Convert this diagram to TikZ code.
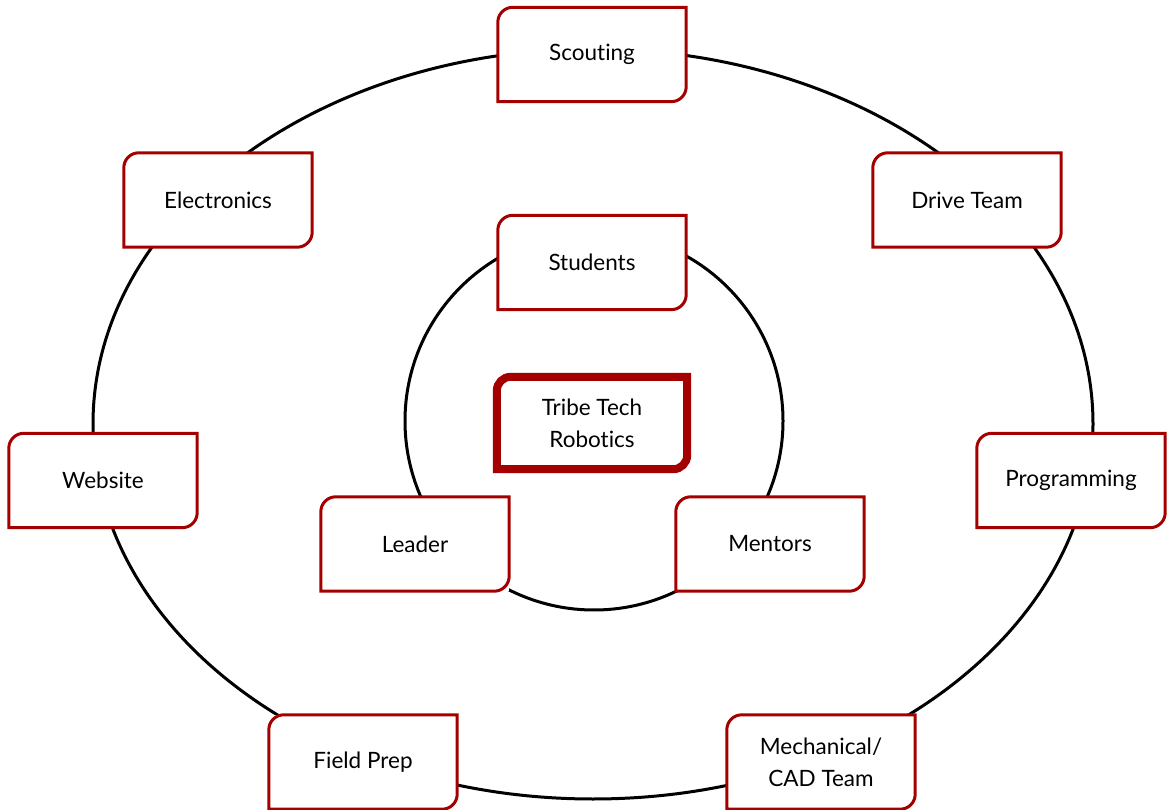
\documentclass[tikz,border=0pt]{standalone}
\usepackage{fontspec}
\setmainfont{Lato}[Ligatures={NoCommon,NoRare}]
\usetikzlibrary{calc}
\definecolor{boxred}{RGB}{165,0,0}
\tikzset{
  boxnode/.style={minimum width=188pt,minimum height=94pt,inner sep=0pt,fill=white,align=center,font=\fontsize{22.5}{32}\selectfont},
  boxline/.style={draw=boxred,line width=3pt},
  ring/.style={draw=black,line width=3pt}
}
\newcommand{\tagbox}[3][15pt]{%
  \draw[#3] ([yshift=-#1]#2.north west) arc[start angle=180,end angle=90,radius=#1] -- (#2.north east) -- ([yshift=#1]#2.south east) arc[start angle=0,end angle=-90,radius=#1] -- (#2.south west) -- cycle;}
\begin{document}
\begin{tikzpicture}[x=1pt,y=1pt]
\useasboundingbox (0,0) rectangle (1167,809);
\draw[ring] (593,385) ellipse[x radius=500,y radius=375];
\draw[ring] (594,388) circle[radius=189];
\node[boxnode] (scout) at (592,754.5) {Scouting};
\node[boxnode] (elec) at (218,609) {Electronics};
\node[boxnode] (drive) at (967,609) {Drive Team};
\node[boxnode] (stud) at (592,546.5) {Students};
\node[boxnode,minimum width=190pt,minimum height=92pt] (tribe) at (592,386) {Tribe Tech\\Robotics};
\node[boxnode] (web) at (103,328.5) {Website};
\node[boxnode] (prog) at (1071,328.5) {Programming};
\node[boxnode] (lead) at (415,265) {Leader};
\node[boxnode] (ment) at (770,265) {Mentors};
\node[boxnode] (field) at (363,47) {Field Prep};
\node[boxnode] (mech) at (821,47) {Mechanical/\\CAD Team};
\foreach \n in {scout,elec,drive,stud,web,prog,lead,ment,field,mech}{\tagbox{\n}{boxline}}
\tagbox[14pt]{tribe}{boxline,line width=8pt}
\end{tikzpicture}
\end{document}
